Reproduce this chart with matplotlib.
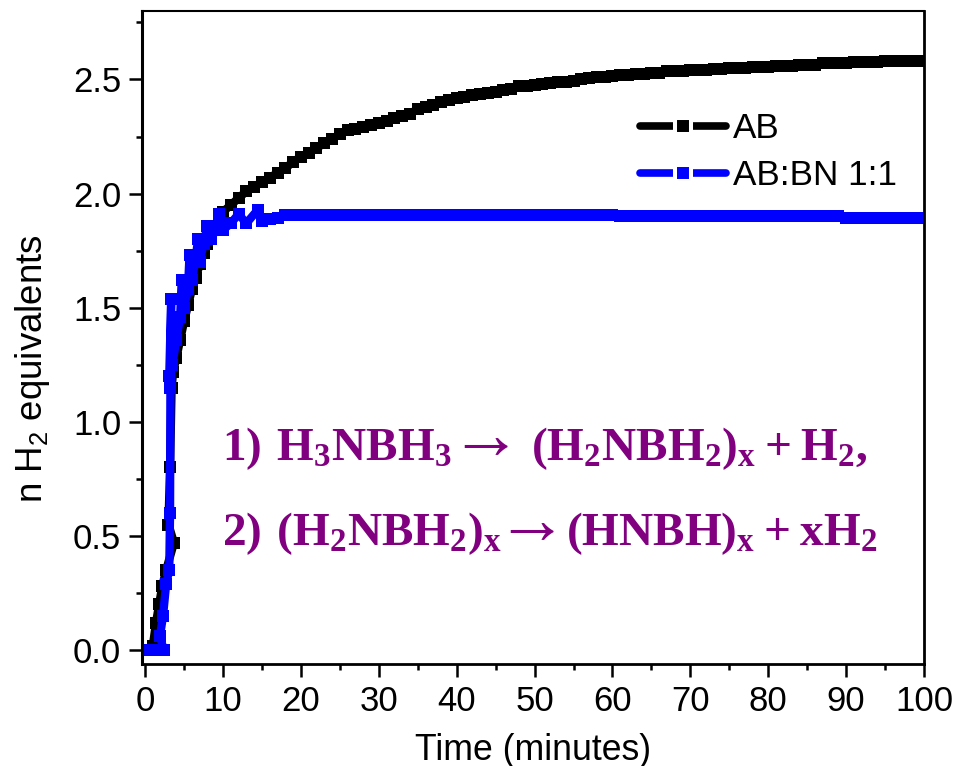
import matplotlib
matplotlib.use('Agg')
import matplotlib.pyplot as plt
from matplotlib.lines import Line2D
from matplotlib.ticker import MultipleLocator

plt.rcParams['font.family'] = ['Liberation Sans', 'DejaVu Sans']
plt.rcParams['mathtext.fontset'] = 'custom'
plt.rcParams['mathtext.rm'] = 'Liberation Sans'
plt.rcParams['mathtext.bf'] = 'Liberation Serif:bold'
plt.rcParams['mathtext.fallback'] = 'stix'
plt.rcParams['mathtext.default'] = 'regular'

# AB curve
t_ab = [0.3, 0.6, 1.0, 1.4, 1.8, 2.2, 2.7, 3.7, 3.0, 3.2, 3.4, 3.6, 4, 4.5, 5, 5.5, 6, 6.5, 7, 7.5, 8, 8.5, 9, 9.5,
        10, 11, 12, 13, 14, 15, 16, 17, 18, 19, 20, 21, 22, 23, 24, 25, 26, 27, 28, 29,
        30, 31, 32, 33, 34, 35, 36, 37, 38, 39, 40, 41, 42, 43, 44, 45, 46, 47, 48, 49,
        50, 51, 52, 53, 54, 55, 56, 57, 58, 59, 60, 61, 62, 63, 64, 65, 66, 67, 68, 69,
        70, 71, 72, 73, 74, 75, 76, 77, 78, 79, 80, 81, 82, 83, 84, 85, 86, 87, 88, 89,
        90, 91, 92, 93, 94, 95, 96, 97, 98, 99, 100]
y_ab = [0, 0, 0.02, 0.12, 0.2, 0.28, 0.35, 0.47, 0.55, 0.8, 1.15, 1.22, 1.28, 1.36, 1.44, 1.51, 1.58, 1.63, 1.69, 1.74, 1.78, 1.82, 1.85, 1.88,
        1.92, 1.95, 1.98, 2.01, 2.03, 2.05, 2.07, 2.09, 2.11, 2.14, 2.16, 2.18, 2.2, 2.22, 2.24, 2.26, 2.28, 2.285, 2.29, 2.3,
        2.31, 2.32, 2.33, 2.34, 2.35, 2.37, 2.38, 2.39, 2.4, 2.41, 2.42, 2.425, 2.43, 2.435, 2.44, 2.445, 2.455, 2.46, 2.47, 2.47,
        2.475, 2.48, 2.485, 2.49, 2.49, 2.495, 2.5, 2.505, 2.51, 2.51, 2.515, 2.52, 2.52, 2.525, 2.525, 2.53, 2.53, 2.535, 2.535, 2.535,
        2.54, 2.54, 2.54, 2.545, 2.545, 2.55, 2.55, 2.55, 2.555, 2.555, 2.555, 2.56, 2.56, 2.56, 2.565, 2.565, 2.565, 2.57, 2.57, 2.57,
        2.57, 2.575, 2.575, 2.575, 2.575, 2.58, 2.58, 2.58, 2.58, 2.58, 2.58]

# AB:BN 1:1 curve, noisy on the way up
t_bn = [0.3, 0.8, 1.3, 1.8, 2.4, 1.9, 2.3, 2.7, 3.1, 3.2, 3.25, 3.35, 3.1, 3.5, 4, 4.5, 4.7, 5, 5.5, 5.7, 6, 6.5, 6.8, 7, 7.5, 8, 8.5, 9, 9.5, 10,
        11, 12, 13, 14.5, 15, 16, 17, 18, 19, 20, 21, 22, 23, 24, 25, 26, 27, 28, 29,
        30, 31, 32, 33, 34, 35, 36, 37, 38, 39, 40, 41, 42, 43, 44, 45, 46, 47, 48, 49,
        50, 51, 52, 53, 54, 55, 56, 57, 58, 59, 60, 61, 62, 63, 64, 65, 66, 67, 68, 69,
        70, 71, 72, 73, 74, 75, 76, 77, 78, 79, 80, 81, 82, 83, 84, 85, 86, 87, 88, 89,
        90, 91, 92, 93, 94, 95, 96, 97, 98, 99, 100]
y_bn = [0, 0, 0, 0, 0, 0.06, 0.15, 0.29, 0.35, 0.6, 1.15, 1.54, 1.2, 1.25, 1.36, 1.46, 1.62, 1.5, 1.58, 1.73, 1.62, 1.72, 1.8, 1.7, 1.78, 1.86, 1.8, 1.84, 1.91, 1.84,
        1.87, 1.91, 1.87, 1.93, 1.88, 1.89, 1.895, 1.905, 1.905, 1.905, 1.905, 1.905, 1.905, 1.905, 1.905, 1.905, 1.905, 1.905, 1.905,
        1.905, 1.905, 1.905, 1.905, 1.905, 1.905, 1.905, 1.905, 1.905, 1.905, 1.905, 1.905, 1.905, 1.905, 1.905, 1.905, 1.905, 1.905, 1.905, 1.905,
        1.905, 1.905, 1.905, 1.905, 1.905, 1.905, 1.905, 1.905, 1.905, 1.905, 1.905, 1.9, 1.9, 1.9, 1.9, 1.9, 1.9, 1.9, 1.9, 1.9,
        1.9, 1.9, 1.9, 1.9, 1.9, 1.9, 1.9, 1.9, 1.9, 1.9, 1.9, 1.9, 1.9, 1.9, 1.9, 1.9, 1.9, 1.9, 1.9, 1.9,
        1.895, 1.895, 1.895, 1.895, 1.895, 1.895, 1.895, 1.895, 1.895, 1.895, 1.895]

x_ticks = [0, 10, 20, 30, 40, 50, 60, 70, 80, 90, 100]
y_ticks = [0.0, 0.5, 1.0, 1.5, 2.0, 2.5]

PURPLE = '#800080'
BLUE = '#0000ff'

fig = plt.figure(figsize=(9.54, 7.66), dpi=100)
ax = fig.add_axes([142/954, 1-664/766, (924-142)/954, (664-11)/766])

ax.plot(t_ab, y_ab, color='black', lw=6, marker='s', ms=9, mew=0)
ax.plot(t_bn, y_bn, color=BLUE, lw=6, marker='s', ms=9, mew=0)

ax.set_xlim(-0.4, 100)
ax.set_ylim(-0.061, 2.80)
ax.set_xticks(x_ticks)
ax.set_yticks(y_ticks)
ax.set_yticklabels(['%.1f' % v for v in y_ticks])
ax.xaxis.set_minor_locator(MultipleLocator(5))
ax.yaxis.set_minor_locator(MultipleLocator(0.25))
ax.tick_params(which='major', length=9.5, width=1.8, labelsize=25, pad=5.5)
ax.tick_params(which='minor', length=4.5, width=1.8)
ax.spines['left'].set_linewidth(2.2)
ax.spines['right'].set_linewidth(2)
ax.spines['bottom'].set_linewidth(2)
ax.spines['top'].set_linewidth(1.5)

fig.text(533/954, 1-750/766, 'Time (minutes)', fontsize=25.7, ha='center', va='center')
fig.text(33/954, 1-369/766, 'n H$_2$ equivalents', fontsize=26.4, rotation=90, ha='center', va='center')

# legend line has a white gap either side of the square
handles = [Line2D([], [], color=c, lw=5.5, solid_capstyle='round', marker='s', ms=11.5,
                  mfc=c, mec='white', mew=2.9) for c in ['black', BLUE]]
ax.legend(handles, ['AB', 'AB:BN 1:1'], numpoints=1, loc='upper left', bbox_to_anchor=(0.637, 0.845),
          frameon=False, fontsize=25.3, handlelength=2.43, handletextpad=0.2, labelspacing=0.39,
          borderpad=0, borderaxespad=0)

# arrows are bigger than the text, so each reaction is three pieces
fig.text(222/954, 1-460/766, r'$\mathbf{1)\ H_3NBH_3}$', color=PURPLE, fontsize=34, va='baseline')
fig.text(472/954, 1-438/766, r'$\rightarrow$', color=PURPLE, fontsize=52, ha='center', va='center')
fig.text(531/954, 1-460/766, r'$\mathbf{(H_2NBH_2)_x + H_2,}$', color=PURPLE, fontsize=34, va='baseline')
fig.text(222/954, 1-545/766, r'$\mathbf{2)\ (H_2NBH_2)_x}$', color=PURPLE, fontsize=34, va='baseline')
fig.text(518/954, 1-523/766, r'$\rightarrow$', color=PURPLE, fontsize=52, ha='center', va='center')
fig.text(566/954, 1-545/766, r'$\mathbf{(HNBH)_x + xH_2}$', color=PURPLE, fontsize=34, va='baseline')

fig.savefig('out.png', dpi=100)
